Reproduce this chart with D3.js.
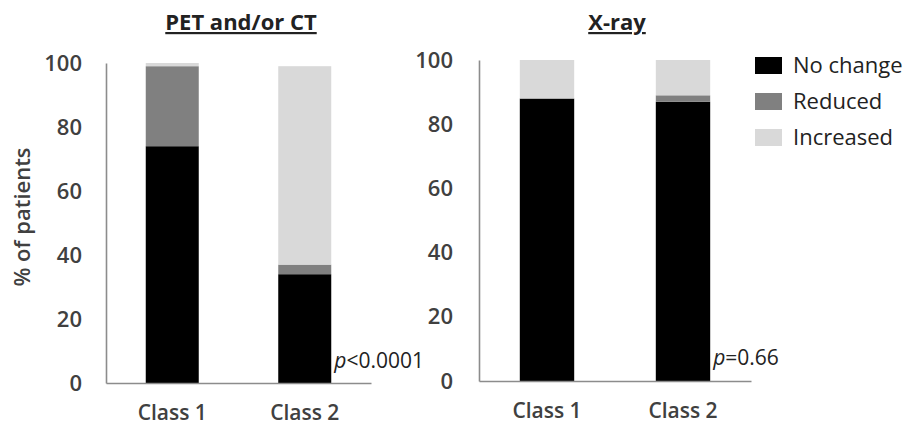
<!DOCTYPE html>
<html>
<head>
<meta charset="utf-8">
<script src="https://cdn.jsdelivr.net/npm/d3@7"></script>
<style>
  body { margin: 0; background: #fff; }
  svg text { font-family: "Open Sans", sans-serif; }
</style>
</head>
<body>
<svg id="chart" width="907" height="431"></svg>
<script>
var classes = ["Class 1", "Class 2"];
var series = ["No change", "Reduced", "Increased"];
var seriesColors = ["#000000", "#808080", "#d9d9d9"];
var yTicks = [0, 20, 40, 60, 80, 100];

// PET and/or CT
var petNoChange = [74, 34];
var petReduced = [25, 3];
var petIncreased = [1, 62];

// X-ray
var xrayNoChange = [88, 87];
var xrayReduced = [0, 2];
var xrayIncreased = [12, 11];

var svg = d3.select("#chart");
var color = d3.scaleOrdinal().domain(series).range(seriesColors);

function rows(nc, rd, inc) {
    return classes.map(function (c, i) {
        return { cls: c, "No change": nc[i], "Reduced": rd[i], "Increased": inc[i] };
    });
}

function drawPanel(opt) {
    var g = svg.append("g");
    var x = d3.scaleBand().domain(classes).range([opt.x0, opt.x1])
        .paddingInner(0.6).paddingOuter(0.3);
    var y = d3.scaleLinear().domain([0, 100]).range([opt.y0, opt.y1]);

    var stacked = d3.stack().keys(series)(opt.data);

    g.selectAll("g.layer").data(stacked).enter()
        .append("g").attr("class", "layer")
        .attr("fill", function (d) { return color(d.key); })
        .selectAll("rect").data(function (d) { return d; }).enter()
        .append("rect")
        .attr("x", function (d) { return x(d.data.cls); })
        .attr("width", x.bandwidth())
        .attr("y", function (d) { return y(d[1]); })
        .attr("height", function (d) { return y(d[0]) - y(d[1]); });

    var yAxis = d3.axisLeft(y).tickValues(yTicks).tickSize(0).tickPadding(opt.tickPad);
    var ya = g.append("g").attr("transform", "translate(" + opt.x0 + ",0)").call(yAxis);
    ya.select(".domain").attr("stroke", "#8c8c8c").attr("stroke-width", 1.6);
    ya.selectAll("text").style("font-size", "22px").style("font-weight", "600").attr("fill", "#404040");

    var xAxis = d3.axisBottom(x).tickSize(0).tickPadding(22);
    var xa = g.append("g").attr("transform", "translate(0," + opt.y0 + ")").call(xAxis);
    xa.select(".domain").attr("stroke", "#8c8c8c").attr("stroke-width", 1.6);
    xa.selectAll("text").style("font-size", "21px").style("font-weight", "600").attr("fill", "#404040");

    g.append("text")
        .attr("x", opt.titleX).attr("y", 30)
        .attr("text-anchor", "middle")
        .style("font-size", "22px").style("font-weight", "700")
        .style("text-decoration", "underline")
        .attr("fill", "#222")
        .text(opt.title);

    var pt = g.append("text")
        .attr("x", x("Class 2") + x.bandwidth() + 3).attr("y", opt.pY)
        .style("font-size", "21px").attr("fill", "#222");
    pt.append("tspan").style("font-style", "italic").text("p");
    pt.append("tspan").text(opt.pText);
}

drawPanel({
    data: rows(petNoChange, petReduced, petIncreased),
    x0: 106, x1: 371, y0: 383, y1: 63, tickPad: 24,
    title: "PET and/or CT", titleX: 241, pY: 368, pText: "<0.0001"
});

drawPanel({
    data: rows(xrayNoChange, xrayReduced, xrayIncreased),
    x0: 479, x1: 751, y0: 381, y1: 60, tickPad: 26,
    title: "X-ray", titleX: 617, pY: 365, pText: "=0.66"
});

// y-axis title
svg.append("text")
    .attr("transform", "translate(30,217) rotate(-90)")
    .attr("text-anchor", "middle")
    .style("font-size", "22px").style("font-weight", "600")
    .attr("fill", "#404040")
    .text("% of patients");

// legend
var legend = svg.append("g").attr("transform", "translate(755,57)");
var li = legend.selectAll("g").data(series).enter().append("g")
    .attr("transform", function (d, i) { return "translate(0," + (i * 36) + ")"; });
li.append("rect").attr("width", 27).attr("height", 17)
    .attr("fill", function (d) { return color(d); });
li.append("text").attr("x", 38).attr("y", 8.5).attr("dy", "0.35em")
    .style("font-size", "22px").attr("fill", "#222")
    .text(function (d) { return d; });
</script>
</body>
</html>
